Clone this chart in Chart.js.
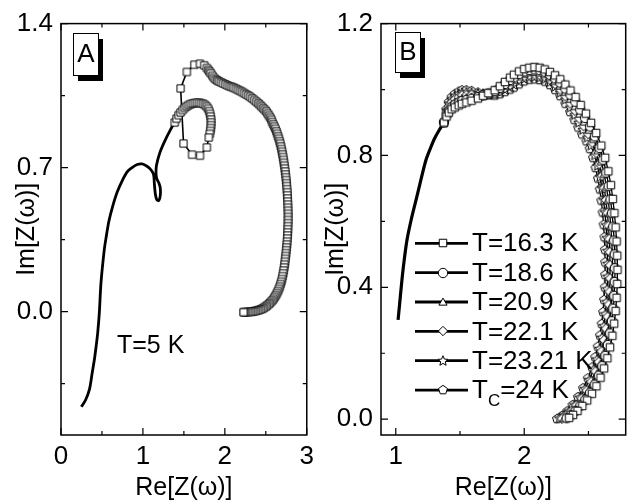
<!DOCTYPE html>
<html>
<head>
<meta charset="utf-8">
<script src="https://cdn.jsdelivr.net/npm/chart.js@4.4.1/dist/chart.umd.min.js"></script>
<style>
body{margin:0;background:#fff;}
#wrapA{position:absolute;left:0;top:0;width:320px;height:501px;}
#wrapB{position:absolute;left:320px;top:0;width:311px;height:501px;}
</style>
</head>
<body>
<div id="wrapA"><canvas id="chartA" width="320" height="501"></canvas></div>
<div id="wrapB"><canvas id="chartB" width="311" height="501"></canvas></div>
<script>
// ---- panel A (T = 5 K) ----
const xTicksA = [0, 1, 2, 3];
const xMinorA = [0.5, 1.5, 2.5];
const yTicksA = [0, 0.7, 1.4];
const yMinorA = [-0.35, 0.35, 1.05];

// low-frequency part, plain line
const lineA = [[0.248,-0.463],[0.30,-0.43],[0.348,-0.377],[0.38,-0.30],[0.408,-0.232],[0.43,-0.165],[0.448,-0.103],[0.468,-0.005],[0.488,0.14],[0.528,0.30],[0.548,0.354],[0.585,0.44],[0.628,0.508],[0.685,0.58],[0.748,0.637],[0.81,0.68],[0.868,0.70],[0.93,0.715],[0.988,0.718],[1.045,0.708],[1.088,0.694],[1.128,0.670],[1.14,0.62],[1.152,0.57],[1.17,0.543],[1.195,0.54],[1.212,0.565],[1.212,0.60],[1.195,0.625],[1.17,0.645],[1.16,0.67],[1.165,0.71],[1.208,0.774],[1.268,0.83],[1.34,0.887],[1.388,0.919]];

// square-marked part
const squaresA = [[1.388,0.919],[1.41,0.938],[1.435,0.955],[1.46,0.968],[1.485,0.980],[1.51,0.990],[1.535,0.998],[1.56,1.004],[1.585,1.009],[1.61,1.012],[1.635,1.014],[1.66,1.015],[1.685,1.015],[1.71,1.013],[1.735,1.010],[1.76,1.004],[1.78,0.996],[1.797,0.986],[1.81,0.974],[1.82,0.961],[1.827,0.948],[1.831,0.934],[1.832,0.920],[1.831,0.906],[1.828,0.892],[1.823,0.878],[1.816,0.864],[1.804,0.846],[1.78,0.798],[1.696,0.758],[1.60,0.763],[1.496,0.817],[1.46,1.085],[1.536,1.165],[1.628,1.20],[1.696,1.205],[1.748,1.197],
[1.78,1.184],[1.80,1.174],[1.815,1.166],[1.83,1.158],[1.85,1.146],[1.868,1.136],[1.89,1.128],[1.91,1.123],[1.93,1.119],[1.955,1.114],[1.98,1.109],[2.008,1.104],[2.035,1.099],[2.06,1.095],[2.085,1.092],[2.108,1.088],[2.135,1.083],[2.16,1.078],[2.185,1.073],[2.21,1.068],[2.235,1.062],[2.26,1.056],[2.285,1.050],[2.31,1.044],[2.335,1.036],[2.36,1.028],[2.385,1.020],[2.41,1.012],[2.43,1.004],[2.45,0.996],[2.47,0.988],[2.49,0.980],[2.508,0.972],[2.525,0.962],[2.54,0.952],[2.555,0.942],[2.57,0.932],[2.578,0.921],[2.592,0.910],[2.605,0.899],[2.618,0.888],[2.63,0.876],[2.64,0.864],[2.65,0.852],[2.66,0.840],[2.669,0.828],[2.677,0.816],[2.685,0.803],[2.692,0.790],[2.699,0.777],[2.705,0.764],[2.711,0.751],[2.717,0.737],[2.722,0.723],[2.727,0.709],[2.732,0.695],[2.737,0.681],[2.741,0.667],[2.745,0.653],[2.749,0.639],[2.752,0.624],[2.755,0.610],[2.758,0.595],[2.761,0.580],[2.763,0.565],[2.765,0.550],[2.767,0.535],[2.769,0.520],[2.77,0.505],[2.771,0.490],[2.772,0.475],[2.772,0.460],[2.772,0.445],[2.771,0.430],[2.77,0.415],[2.769,0.400],[2.767,0.385],[2.765,0.370],
[2.763,0.355],[2.76,0.340],[2.757,0.326],[2.754,0.312],[2.75,0.298],[2.746,0.284],[2.742,0.270],[2.738,0.256],[2.734,0.242],[2.729,0.228],[2.724,0.214],[2.718,0.200],[2.712,0.186],[2.705,0.172],[2.697,0.158],[2.689,0.145],[2.68,0.133],[2.67,0.121],[2.659,0.110],[2.647,0.099],[2.635,0.089],[2.622,0.079],[2.608,0.070],[2.593,0.061],[2.577,0.053],[2.561,0.046],[2.544,0.039],[2.526,0.033],[2.508,0.027],[2.49,0.022],[2.471,0.017],[2.452,0.013],[2.433,0.010],[2.413,0.007],[2.393,0.005],[2.373,0.003],[2.353,0.001],[2.333,0.0],[2.314,-0.001],[2.293,-0.002],[2.272,-0.002],[2.251,-0.003],[2.235,-0.003],[2.228,-0.003]];

// ---- panel B (16.3 K .. Tc) ----
const xTicksB = [1, 2];
const xMinorB = [1.5, 2.5];
const yTicksB = [0, 0.4, 0.8, 1.2];
const yMinorB = [0.2, 0.6, 1.0];
const seriesNamesB = ['T=16.3 K', 'T=18.6 K', 'T=20.9 K', 'T=22.1 K', 'T=23.21 K', 'T_C=24 K'];
const markerKindsB = ['square', 'circle', 'triangle', 'diamond', 'star', 'pentagon'];

const lineB = [[1.018,0.301],[1.035,0.37],[1.05,0.43],[1.068,0.49],[1.088,0.545],[1.12,0.605],[1.158,0.665],[1.195,0.725],[1.235,0.786],[1.27,0.822],[1.30,0.85],[1.335,0.875],[1.375,0.900]];

const t163 = [[1.375,0.900],[1.395,0.918],[1.413,0.930],[1.435,0.940],[1.46,0.946],[1.49,0.952],[1.515,0.957],[1.55,0.961],[1.59,0.966],[1.64,0.973],[1.68,0.981],[1.72,0.989],[1.77,0.998],[1.81,1.010],[1.85,1.023],[1.89,1.036],[1.92,1.045],[1.96,1.055],[2.00,1.062],[2.04,1.066],
[2.08,1.068],[2.12,1.066],[2.16,1.061],[2.20,1.053],[2.24,1.043],[2.28,1.031],[2.32,1.015],[2.36,0.997],[2.40,0.977],[2.44,0.953],[2.48,0.927],[2.52,0.899],[2.56,0.868],[2.60,0.830],[2.63,0.793],[2.655,0.752],[2.675,0.710],[2.69,0.668],[2.702,0.625],[2.712,0.582],[2.719,0.539],[2.724,0.496],[2.726,0.453],[2.724,0.410],[2.719,0.368],[2.712,0.328],[2.70,0.290],[2.686,0.253],[2.668,0.218],[2.647,0.185],[2.622,0.154],
[2.594,0.126],[2.562,0.100],[2.527,0.077],[2.49,0.057],[2.452,0.040],[2.415,0.025],[2.38,0.013],[2.35,0.004]];

const t186 = [[1.375,0.900],[1.395,0.922],[1.413,0.936],[1.435,0.947],[1.46,0.954],[1.49,0.960],[1.515,0.965],[1.55,0.968],[1.59,0.972],[1.64,0.977],[1.68,0.982],[1.72,0.988],[1.77,0.995],[1.81,1.005],[1.85,1.017],[1.89,1.029],[1.92,1.037],[1.96,1.047],[2.00,1.055],[2.04,1.059],
[2.08,1.061],[2.12,1.059],[2.16,1.054],[2.20,1.045],[2.24,1.034],[2.28,1.021],[2.32,1.003],[2.36,0.984],[2.398,0.963],[2.436,0.939],[2.474,0.914],[2.513,0.888],[2.55,0.858],[2.587,0.823],[2.615,0.787],[2.639,0.748],[2.658,0.707],[2.672,0.667],[2.684,0.625],[2.693,0.584],[2.70,0.542],[2.705,0.500],[2.707,0.458],[2.705,0.416],[2.701,0.374],[2.694,0.335],[2.683,0.297],[2.669,0.260],[2.652,0.225],[2.632,0.192],[2.608,0.161],
[2.581,0.132],[2.549,0.105],[2.513,0.080],[2.476,0.059],[2.437,0.041],[2.399,0.025],[2.362,0.012],[2.331,0.003]];

const t209 = [[1.375,0.900],[1.395,0.927],[1.413,0.943],[1.435,0.955],[1.46,0.962],[1.49,0.969],[1.515,0.973],[1.55,0.976],[1.59,0.978],[1.64,0.980],[1.68,0.983],[1.72,0.987],[1.77,0.992],[1.81,1.000],[1.85,1.011],[1.89,1.022],[1.92,1.029],[1.96,1.039],[2.00,1.047],[2.04,1.052],
[2.08,1.053],[2.12,1.051],[2.16,1.046],[2.20,1.037],[2.24,1.025],[2.28,1.011],[2.32,0.992],[2.36,0.971],[2.396,0.949],[2.432,0.926],[2.468,0.902],[2.506,0.877],[2.54,0.849],[2.574,0.815],[2.60,0.781],[2.623,0.743],[2.640,0.705],[2.654,0.666],[2.665,0.626],[2.674,0.585],[2.681,0.544],[2.686,0.503],[2.688,0.462],[2.686,0.421],[2.682,0.381],[2.676,0.342],[2.666,0.304],[2.653,0.267],[2.636,0.232],[2.617,0.199],[2.594,0.168],
[2.568,0.138],[2.535,0.110],[2.499,0.084],[2.461,0.061],[2.422,0.041],[2.383,0.025],[2.345,0.012],[2.312,0.003]];

const t221 = [[1.375,0.900],[1.395,0.931],[1.413,0.949],[1.435,0.962],[1.46,0.971],[1.49,0.977],[1.515,0.982],[1.55,0.983],[1.59,0.984],[1.64,0.984],[1.68,0.984],[1.72,0.985],[1.77,0.988],[1.81,0.996],[1.85,1.005],[1.89,1.014],[1.92,1.022],[1.96,1.032],[2.00,1.040],[2.04,1.044],
[2.08,1.046],[2.12,1.044],[2.16,1.039],[2.20,1.030],[2.24,1.017],[2.28,1.000],[2.32,0.980],[2.358,0.958],[2.394,0.936],[2.428,0.912],[2.462,0.889],[2.498,0.865],[2.53,0.839],[2.561,0.808],[2.585,0.774],[2.606,0.739],[2.623,0.702],[2.636,0.665],[2.647,0.626],[2.656,0.587],[2.662,0.547],[2.666,0.507],[2.668,0.467],[2.668,0.427],[2.664,0.387],[2.658,0.348],[2.648,0.311],[2.636,0.275],[2.621,0.240],[2.602,0.206],[2.58,0.174],
[2.554,0.145],[2.522,0.114],[2.486,0.087],[2.447,0.063],[2.406,0.042],[2.366,0.024],[2.327,0.011],[2.293,0.002]];

const t2321 = [[1.375,0.900],[1.395,0.936],[1.413,0.956],[1.435,0.970],[1.46,0.979],[1.49,0.986],[1.515,0.990],[1.55,0.991],[1.59,0.990],[1.64,0.987],[1.68,0.985],[1.72,0.984],[1.77,0.985],[1.81,0.991],[1.85,0.999],[1.89,1.007],[1.92,1.014],[1.96,1.024],[2.00,1.032],[2.04,1.037],
[2.08,1.038],[2.12,1.036],[2.16,1.031],[2.20,1.022],[2.24,1.008],[2.28,0.990],[2.32,0.969],[2.358,0.945],[2.392,0.922],[2.424,0.899],[2.456,0.877],[2.491,0.854],[2.52,0.830],[2.548,0.800],[2.57,0.768],[2.590,0.734],[2.605,0.700],[2.618,0.664],[2.628,0.627],[2.637,0.588],[2.643,0.549],[2.647,0.510],[2.649,0.471],[2.649,0.432],[2.645,0.394],[2.64,0.355],[2.631,0.318],[2.62,0.282],[2.605,0.247],[2.587,0.213],[2.566,0.181],
[2.541,0.151],[2.508,0.119],[2.472,0.091],[2.432,0.065],[2.391,0.042],[2.35,0.024],[2.31,0.011],[2.274,0.002]];

const t24 = [[1.375,0.900],[1.395,0.940],[1.413,0.962],[1.435,0.977],[1.46,0.987],[1.49,0.994],[1.515,0.998],[1.55,0.998],[1.59,0.996],[1.64,0.991],[1.68,0.986],[1.72,0.983],[1.77,0.982],[1.81,0.986],[1.85,0.993],[1.89,1.000],[1.92,1.006],[1.96,1.016],[2.00,1.025],[2.04,1.030],
[2.08,1.031],[2.12,1.029],[2.16,1.024],[2.20,1.014],[2.24,0.999],[2.28,0.980],[2.32,0.957],[2.357,0.932],[2.39,0.908],[2.42,0.885],[2.45,0.864],[2.484,0.843],[2.51,0.820],[2.535,0.793],[2.555,0.762],[2.574,0.730],[2.588,0.697],[2.60,0.663],[2.61,0.627],[2.618,0.590],[2.624,0.552],[2.628,0.514],[2.63,0.476],[2.63,0.438],[2.627,0.400],[2.622,0.362],[2.614,0.325],[2.603,0.289],[2.589,0.254],[2.572,0.220],[2.552,0.188],
[2.528,0.157],[2.495,0.124],[2.458,0.094],[2.418,0.067],[2.376,0.043],[2.334,0.024],[2.292,0.010],[2.255,0.001]];

const seriesB = [t163, t186, t209, t221, t2321, t24];

const FONT = "'Liberation Sans', Arial, sans-serif";

// white marker with black outline, drawn once into a small canvas
function marker(kind, px, r) {
  const c = document.createElement('canvas');
  c.width = c.height = px;
  const g = c.getContext('2d');
  g.translate(px / 2, px / 2);
  g.beginPath();
  if (kind === 'circle') g.arc(0, 0, r, 0, Math.PI * 2);
  else if (kind === 'square') g.rect(-r * 0.8, -r * 0.8, r * 1.6, r * 1.6);
  else {
    const n = {triangle: 3, diamond: 4, pentagon: 5, star: 10}[kind];
    if (kind === 'triangle') g.translate(0, 0.8);
    for (let i = 0; i < n; i++) {
      const rr = (kind === 'star' && i % 2) ? r * 0.45 : r;
      const a = (-90 + i * 360 / n) * Math.PI / 180;
      g.lineTo(rr * Math.cos(a), rr * Math.sin(a));
    }
    g.closePath();
  }
  g.fillStyle = '#fff';
  g.fill();
  g.lineWidth = 1;
  g.strokeStyle = '#000';
  g.stroke();
  return c;
}

function scales(xr, yr, xt, yt, xFmt, titlePad) {
  const tickFont = {size: 26, family: FONT};
  const titleFont = {size: 25, family: FONT, lineHeight: 1};
  return {
    x: {
      type: 'linear', position: 'bottom', min: xr[0], max: xr[1],
      afterBuildTicks: s => { s.ticks = xt.map(v => ({value: v})); },
      afterFit: s => { s.height = 66; },
      grid: {display: false, drawTicks: false}, border: {display: false},
      ticks: {color: '#000', font: tickFont, padding: 6, maxRotation: 0, autoSkip: false, callback: xFmt},
      title: {display: true, text: 'Re[Z(ω)]', color: '#000', font: titleFont, padding: 0}
    },
    y: {
      type: 'linear', position: 'left', min: yr[0], max: yr[1],
      afterBuildTicks: s => { s.ticks = yt.map(v => ({value: v})); },
      afterFit: s => { s.width = 61; },
      grid: {display: false, drawTicks: false}, border: {display: false},
      ticks: {color: '#000', font: tickFont, padding: 8, autoSkip: false, callback: v => v.toFixed(1)},
      title: {display: true, text: 'Im[Z(ω)]', color: '#000', font: titleFont, padding: {top: titlePad, bottom: 0}}
    }
  };
}

function framePlugin(o) {
  return {
    id: 'frame' + o.tag,
    afterDatasetsDraw(chart) {
      const {ctx, chartArea: a} = chart;
      const sx = chart.scales.x, sy = chart.scales.y;
      ctx.save();
      ctx.strokeStyle = '#000';
      ctx.lineWidth = 1.5;
      ctx.strokeRect(a.left, a.top, a.right - a.left, a.bottom - a.top);
      ctx.lineWidth = 1.2;
      ctx.beginPath();
      const tx = (vals, len) => vals.forEach(v => {
        const p = sx.getPixelForValue(v);
        ctx.moveTo(p, a.bottom); ctx.lineTo(p, a.bottom - len);
        ctx.moveTo(p, a.top); ctx.lineTo(p, a.top + len);
      });
      const ty = (vals, len) => vals.forEach(v => {
        const p = sy.getPixelForValue(v);
        ctx.moveTo(a.left, p); ctx.lineTo(a.left + len, p);
        ctx.moveTo(a.right, p); ctx.lineTo(a.right - len, p);
      });
      tx(o.xMajor, 7); tx(o.xMinor, 4); ty(o.yMajor, 7); ty(o.yMinor, 4);
      ctx.stroke();

      // panel letter with drop shadow
      const b = o.box;
      ctx.fillStyle = '#000';
      ctx.fillRect(b[0] + 5, b[1] + 6, b[2], b[3]);
      ctx.fillStyle = '#fff';
      ctx.fillRect(b[0], b[1], b[2], b[3]);
      ctx.lineWidth = 1;
      ctx.strokeRect(b[0] + 0.5, b[1] + 0.5, b[2], b[3]);
      ctx.fillStyle = '#000';
      ctx.font = '26px ' + FONT;
      ctx.textAlign = 'center';
      ctx.textBaseline = 'middle';
      ctx.fillText(o.tag, b[0] + b[2] / 2 + 0.5, b[1] + b[3] / 2 + 1);
      if (o.extra) o.extra(ctx);
      ctx.restore();
    }
  };
}

const sqA = marker('square', 11, 4.5);
const markersB = markerKindsB.map(k => marker(k, 12, k === 'star' ? 5.3 : 4.7));

new Chart(document.getElementById('chartA'), {
  type: 'scatter',
  data: {
    datasets: [
      {data: squaresA, showLine: true, borderColor: '#000', borderWidth: 1.6, pointStyle: sqA, pointRadius: 4},
      {data: lineA, showLine: true, borderColor: '#000', borderWidth: 2.8, pointRadius: 0, tension: 0.3}
    ]
  },
  options: {
    responsive: false, animation: false, events: [],
    layout: {padding: {left: 0, right: 9, top: 23, bottom: 0}},
    plugins: {legend: {display: false}, tooltip: {enabled: false}},
    scales: scales([0, 3], [-0.6, 1.4], xTicksA, yTicksA, v => String(v), 15)
  },
  plugins: [framePlugin({
    tag: 'A', box: [73, 33, 25, 42],
    xMajor: xTicksA, xMinor: xMinorA, yMajor: yTicksA, yMinor: yMinorA,
    extra: ctx => {
      ctx.textAlign = 'left';
      ctx.textBaseline = 'alphabetic';
      ctx.font = '25px ' + FONT;
      ctx.fillText('T=5 K', 117, 353);
    }
  })]
});

const dsB = seriesB.map((s, i) => ({
  data: s, showLine: true, borderColor: '#000', borderWidth: 1.3,
  pointStyle: markersB[i], pointRadius: 4
}));
dsB.push({data: lineB, showLine: true, borderColor: '#000', borderWidth: 3.2, pointRadius: 0, tension: 0.3});

new Chart(document.getElementById('chartB'), {
  type: 'scatter',
  data: {datasets: dsB},
  options: {
    responsive: false, animation: false, events: [],
    layout: {padding: {left: 0, right: 1, top: 23, bottom: 0}},
    plugins: {legend: {display: false}, tooltip: {enabled: false}},
    scales: scales([0.885, 2.79], [-0.048, 1.2], xTicksB, yTicksB, v => String(v), 4)
  },
  plugins: [framePlugin({
    tag: 'B', box: [75, 32, 25, 40],
    xMajor: xTicksB, xMinor: xMinorB, yMajor: yTicksB, yMinor: yMinorB,
    extra: ctx => {
      // legend drawn inside the plot
      seriesNamesB.forEach((name, i) => {
        const y = 243.3 + i * 29.35;
        ctx.lineWidth = 2.8;
        ctx.beginPath();
        ctx.moveTo(95, y); ctx.lineTo(148, y);
        ctx.stroke();
        const m = markersB[i];
        ctx.drawImage(m, Math.round(122.7 - m.width / 2), Math.round(y - m.height / 2));
        ctx.textAlign = 'left';
        ctx.textBaseline = 'middle';
        ctx.font = '26px ' + FONT;
        const parts = name.split('_');
        if (parts.length === 1) {
          ctx.fillText(name, 152, y + 1);
        } else {
          ctx.fillText(parts[0], 152, y + 1);
          let x = 152 + ctx.measureText(parts[0]).width;
          ctx.font = '17px ' + FONT;
          ctx.fillText(parts[1][0], x, y + 11);
          x += ctx.measureText(parts[1][0]).width;
          ctx.font = '26px ' + FONT;
          ctx.fillText(parts[1].slice(1), x, y + 1);
        }
      });
    }
  })]
});
</script>
</body>
</html>
